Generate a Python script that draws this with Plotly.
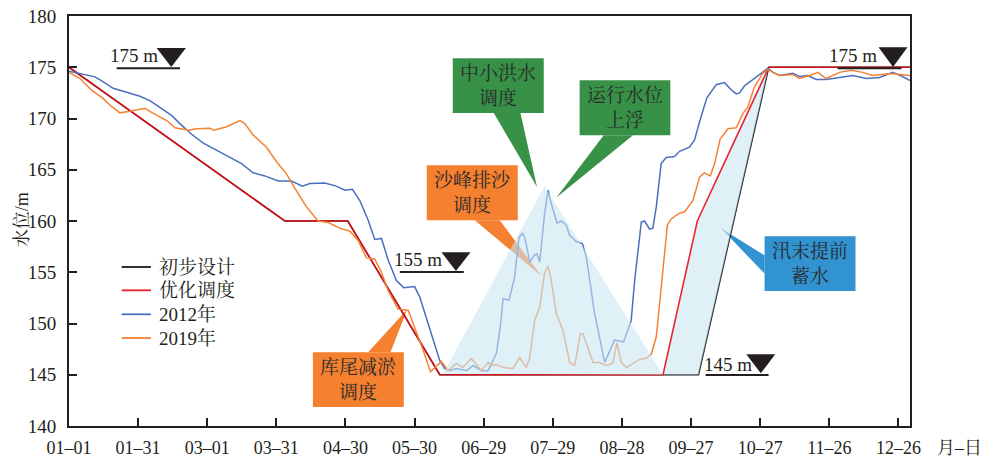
import plotly.graph_objects as go

tick_days = [0, 30, 60, 90, 120, 150, 180, 210, 240, 270, 300, 330, 360]
tick_labels = ["01–01", "01–31", "03–01", "03–31", "04–30", "05–30", "06–29",
               "07–29", "08–28", "09–27", "10–27", "11–26", "12–26"]

design_days = [0, 93.7, 121, 160.9, 273.2, 303.7, 365]
design_levels = [175, 160, 160, 145, 145, 175, 175]
optimized_days = [0, 93.7, 121, 160.9, 257.8, 272.7, 303.7, 365]
optimized_levels = [175, 160, 160, 145, 145, 160, 175, 175]

blue_days = [0, 4.8, 11.3, 14.9, 19.2, 25, 30.8, 35.1, 39.5, 44.5, 48.1, 53.2, 58.3, 64, 69.8, 74.9,
             79.9, 85, 90.8, 96.6, 101.3, 104.5, 111, 116, 119.7, 123, 126.2, 129.8, 132.7, 135.6,
             138.5, 142.1, 145.3, 150, 152.2, 155.9, 158.7, 160.9, 163.1, 165.2, 168.1, 171, 172.5,
             175.4, 179, 181.9, 185.5, 187.2, 188.4, 191, 193.4, 195.3, 196.8, 197.8, 200, 202.1,
             203.1, 204.3, 206.4, 207.9, 209.3, 211.8, 213.7, 215.8, 217.3, 220.2, 222.8, 224.5,
             228.1, 232.5, 236.8, 240.7, 244, 245.5, 247.4, 248.4, 249.8, 252, 253.4, 254.9, 257,
             259.2, 262.8, 265, 269.3, 271.5, 273.7, 276.8, 280.9, 284.5, 287.4, 289.6, 291, 293.2,
             296.8, 301.1, 303.3, 305.5, 308.4, 314.1, 317, 320.6, 324.3, 328.6, 334.4, 340.2, 346,
             351.7, 357.5, 361.8, 365]
blue_levels = [174.6, 174.4, 174.06, 173.57, 172.95, 172.56, 172.17, 171.75, 171.06, 170.3, 169.5,
               168.46, 167.6, 166.9, 166.15, 165.6, 164.7, 164.4, 163.9, 163.9, 163.4, 163.65, 163.7,
               163.4, 163, 163.1, 162, 160.1, 158.2, 158.3, 156.2, 154.2, 153.5, 153.6, 152.6, 150,
               147.9, 146.4, 145.6, 145.4, 145.6, 145.5, 145.4, 145.9, 145.4, 145.4, 147.1, 149.7,
               152.4, 152.3, 154.5, 158.4, 158.8, 158.4, 156, 156.7, 156.8, 156, 160.7, 163, 161.7,
               159.8, 160, 159.6, 158.6, 158, 157.8, 156.5, 151, 146.2, 148.4, 148.2, 150.3, 154.2,
               158.1, 159.9, 160, 159.2, 159.3, 161.4, 165.6, 166.2, 166.3, 166.8, 167.2, 167.9,
               169.7, 172, 173.3, 173.5, 172.8, 172.4, 172.5, 173.2, 173.8, 174.5, 174.9, 174.5,
               174.2, 174.4, 174.1, 174.2, 173.8, 173.8, 174, 174.2, 173.9, 174, 174.5, 174.1, 173.7]

orange_days = [0, 4.8, 9.8, 14.9, 17.8, 22.1, 26.5, 32.9, 36.6, 42.4, 46, 51.8, 55.4, 61.2, 62.9, 68.4,
               74.2, 76.3, 79.9, 85.7, 90, 94.4, 98, 103, 108.1, 112.5, 117.5, 121.9, 125.5, 129.1,
               132.7, 135.6, 138.5, 142.8, 147.2, 150, 153.7, 156.9, 161.6, 164.5, 168.1, 171, 174.6,
               179, 181.9, 183.3, 185.5, 188.4, 192.7, 195.6, 198.5, 200, 202.1, 204.3, 206.4, 207.9,
               209.3, 211.5, 214.4, 217.3, 219.5, 221.9, 223.1, 227.4, 230.3, 233.2, 236, 237.8, 239.7,
               241.9, 244.8, 247.6, 250.5, 252.7, 254.9, 257, 259.7, 261.4, 264.3, 267.2, 270.8, 273.7,
               275.8, 278.3, 280.2, 282.6, 286, 289.6, 292.5, 294.6, 297.5, 301.1, 303.3, 305.5, 308.4,
               314.1, 317, 321.4, 325, 328.6, 334.4, 339.4, 344.5, 348.8, 356.8, 365]
orange_levels = [174.5, 173.9, 172.76, 171.94, 171.3, 170.55, 170.7, 171, 170.5, 169.8, 169.1, 168.85,
                 169, 169.05, 168.85, 169.2, 169.8, 169.5, 168.4, 167.2, 165.8, 164.6, 163.2, 161.4,
                 160, 159.85, 159.3, 159, 158.1, 156.4, 156.3, 155, 153.2, 151.4, 151.3, 149.7, 147.4,
                 145.3, 146.3, 145.4, 146.1, 145.7, 146.6, 145.4, 146.2, 145.9, 146, 145.7, 145.6,
                 146.7, 145.7, 146.7, 150.3, 151.6, 154.9, 155.6, 154.2, 151, 149.3, 146.2, 145.9,
                 149, 149, 146.2, 146.2, 145.9, 146.1, 148.1, 146.2, 145.7, 146.1, 146.5, 146.6, 147,
                 148.7, 153.6, 159.6, 160.2, 160.7, 160.9, 162, 164.3, 164.7, 164.4, 165.6, 168, 169,
                 169.1, 170.5, 171.1, 173.1, 174.4, 174.8, 174.5, 174.2, 174.3, 173.9, 174.2, 174.5,
                 173.9, 174.5, 174.7, 174.5, 174.2, 174.4, 174.2]

flood_days = [162.4, 206.4, 257.8]
flood_levels = [145.1, 163.4, 145]
impound_days = [257.8, 272.7, 303.7, 273.2]
impound_levels = [145, 160, 175, 145]

FONT = "'Liberation Serif', 'Noto Serif CJK SC', 'Noto Sans CJK SC', serif"
INK = "#231f20"
WASH = "rgba(202,230,242,0.6)"

series = [
    ("初步设计", design_days, design_levels, "#1a1a1a", 1.5, 1),
    ("优化调度", optimized_days, optimized_levels, "#e8101a", 1.6, 0.9),
    ("2012年", blue_days, blue_levels, "#4a6fbe", 1.5, 1),
    ("2019年", orange_days, orange_levels, "#f58233", 1.5, 1),
]

def wash_trace(xs, ys):
    return go.Scatter(x=xs, y=ys, mode="lines", fill="toself", fillcolor=WASH,
                      line=dict(width=0), showlegend=False, hoverinfo="skip")

fig = go.Figure()
for i, (name, xs, ys, color, width, alpha) in enumerate(series):
    fig.add_trace(go.Scatter(x=xs, y=ys, name=name, mode="lines",
                             line=dict(color=color, width=width), opacity=alpha, showlegend=False))
    if i == 0:
        fig.add_trace(wash_trace(impound_days, impound_levels))
fig.add_trace(wash_trace(flood_days, flood_levels))

L, R, T, B = 69, 910.5, 15.7, 425.7
def px(x):
    return (x - L) / (R - L)
def py(y):
    return (B - y) / (B - T)
def path(points):
    return "M " + " L ".join(f"{px(a):.4f},{py(b):.4f}" for a, b in points) + " Z"

callouts = [
    ("中小洪水<br>调度", "#379146", (453, 58, 544, 112.7), [(494, 112.7), (537.3, 186.7), (520.7, 112.7)]),
    ("运行水位<br>上浮", "#379146", (580, 80, 670.7, 135), [(604, 135), (556.7, 197.3), (633.3, 135)]),
    ("沙峰排沙<br>调度", "#f58030", (427, 165, 518, 220), [(475, 220), (541.7, 275.7), (500, 220)]),
    ("库尾减淤<br>调度", "#f58030", (313, 352, 404, 406.7), [(368.3, 352), (407.3, 309.3), (390.7, 352)]),
    ("汛末提前<br>蓄水", "#3193d1", (765, 236, 856, 290.7), [(765, 255), (721.7, 228.3), (765, 273.3)]),
]
for text, color, (x0, y0, x1, y1), tip in callouts:
    fig.add_shape(type="path", xref="paper", yref="paper", layer="below", fillcolor=color,
                  line=dict(width=0), path=path([(x0, y0), (x1, y0), (x1, y1), (x0, y1)]))
    fig.add_shape(type="path", xref="paper", yref="paper", layer="below", fillcolor=color,
                  line=dict(width=0), path=path(tip))
    fig.add_annotation(text=text, xref="paper", yref="paper", x=px((x0 + x1) / 2), y=py((y0 + y1) / 2),
                       showarrow=False, font=dict(family=FONT, size=19, color="#2a2a2a"),
                       xanchor="center", yanchor="middle")

levels = [
    ("175 m", 134, 55, (156.7, 186, 47.7, 66.7), (116.7, 180, 68)),
    ("175 m", 853, 55, (879, 908, 47, 66.7), (838, 902, 68)),
    ("155 m", 418.5, 259, (441.7, 470.7, 252, 270.7), (400, 464, 271.7)),
    ("145 m", 728.5, 364, (746.7, 775.7, 354, 373), (706, 769, 374.7)),
]
for text, tx, ty, (a, b, c, d), (l0, l1, ly) in levels:
    fig.add_shape(type="path", xref="paper", yref="paper", fillcolor=INK, line=dict(width=0),
                  path=path([(a, c), (b, c), ((a + b) / 2, d)]))
    fig.add_shape(type="line", xref="paper", yref="paper", x0=px(l0), x1=px(l1), y0=py(ly), y1=py(ly),
                  line=dict(color=INK, width=2))
    fig.add_annotation(text=text, xref="paper", yref="paper", x=px(tx), y=py(ty), showarrow=False,
                       font=dict(family=FONT, size=19, color=INK), xanchor="center", yanchor="middle")

legend_rows = [266.7, 290, 314, 337.7]
for (name, _, _, color, width, alpha), row in zip(series, legend_rows):
    fig.add_shape(type="line", xref="paper", yref="paper", x0=px(121.7), x1=px(151), y0=py(row), y1=py(row),
                  line=dict(color=color, width=width + 0.3), opacity=alpha)
    fig.add_annotation(text=name, xref="paper", yref="paper", x=px(158), y=py(row), showarrow=False,
                       font=dict(family=FONT, size=19, color=INK), xanchor="left", yanchor="middle", xshift=-1)

fig.add_annotation(text="月–日", xref="paper", yref="paper", x=px(960), y=py(447.5), showarrow=False,
                   font=dict(family=FONT, size=18, color=INK), xanchor="center", yanchor="middle")
fig.add_annotation(text="水位/m", xref="paper", yref="paper", x=px(22), y=py(220), showarrow=False,
                   textangle=-90, font=dict(family=FONT, size=18, color=INK),
                   xanchor="center", yanchor="middle")

axis = dict(showgrid=False, zeroline=False, showline=True, linecolor=INK, linewidth=2, mirror=True,
            ticks="inside", ticklen=8, tickwidth=1.6, tickcolor=INK, automargin=False)
fig.update_layout(
    width=990, height=459, autosize=False, paper_bgcolor="white", plot_bgcolor="white",
    margin=dict(l=L, r=990 - R, t=T, b=459 - B, pad=0),
    showlegend=False,
    xaxis=dict(range=[0, 365], tickmode="array", tickvals=tick_days, ticktext=tick_labels,
               ticklabelstandoff=4, tickfont=dict(family=FONT, size=18, color=INK), **axis),
    yaxis=dict(range=[140, 180], tickmode="linear", tick0=140, dtick=5, ticklabelstandoff=7,
               tickfont=dict(family=FONT, size=19, color=INK), **axis),
)
fig.write_html("out.html", config=dict(displayModeBar=False),
               post_script="document.body.style.margin='0';")
